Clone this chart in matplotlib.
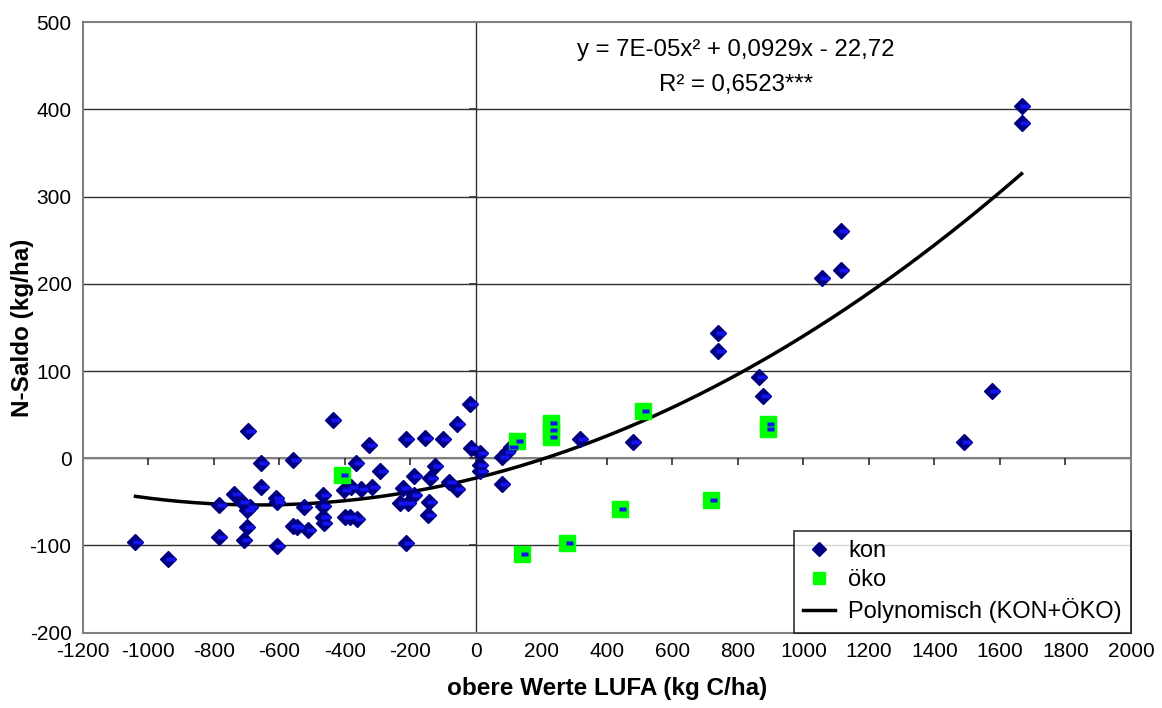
import matplotlib
matplotlib.use("Agg")
import matplotlib.pyplot as plt
import numpy as np
from matplotlib.markers import TICKDOWN, TICKLEFT
from matplotlib.lines import Line2D

plt.rcParams['font.family'] = ['Liberation Sans', 'DejaVu Sans']

# ---- data ----
kon_x = [-1039, -941, -785, -785, -739, -714, -699, -689, -697, -699, -709,
         -656, -655, -610, -607, -607, -559, -558, -546, -526, -511,
         -468, -467, -467, -465, -436, -401, -380, -351, -317, -399, -383,
         -363, -366, -325, -294, -221, -190, -231, -206, -214, -213, -155,
         -99, -188, -126, -139, -142, -146, -81, -58, -56, -17, -15, 13, 13,
         13, 79, 95, 108, 79, 319, 479, 740, 740, 864, 877, 1056, 1114, 1114,
         1490, 1575, 1666, 1666]
kon_y = [-96.3, -115.5, -53.6, -89.9, -41.3, -49.8, -59.3, -55.5, 31, -78.4,
         -93.7, -5.7, -32.6, -45.9, -49.8, -100.6, -2, -77.3, -78.4, -55.5,
         -82.2, -42.1, -54.7, -67, -74.5, 43.9, -36.4, -32.6, -35.2, -32.6,
         -67, -67, -69.6, -5, 15.6, -14.2, -34.4, -42.1, -51.6, -51.3, -96.8,
         22.1, 23.6, 21.8, -20.3, -8.8, -22.2, -49.8, -65, -26.8, -35.6, 39,
         62.3, 12.2, 5.7, -7.7, -14.6, 1.8, 7.6, 13.3, -29.8, 21.8, 18.3,
         143.3, 123, 93.6, 71.8, 206.8, 261, 216, 18.7, 77.5, 404, 384]

oeko_x = [-409, 126, 230, 230, 230, 140, 278, 440, 510, 718, 893, 893]
oeko_y = [-19.2, 19.8, 40.5, 32.1, 24.8, -110, -97.5, -58, 54, -47.5, 39.7, 33.6]

# trend line coefficients as printed on the chart
coef_a, coef_b, coef_c = 7e-05, 0.0929, -22.72

x_ticks = list(range(-1200, 2001, 200))
y_ticks = list(range(-200, 501, 100))

# ---- figure ----
fig = plt.figure(figsize=(11.62, 7.08), dpi=100)
ax = fig.add_axes([0.0712, 0.1064, 0.9021, 0.8621])
ax.set_xlim(-1200, 2000)
ax.set_ylim(-200, 500)

for s in ax.spines.values():
    s.set_color('#808080')
    s.set_linewidth(1.5)

ax.set_xticks(x_ticks)
ax.set_yticks(y_ticks)
ax.tick_params(length=0, labelsize=15)
ax.tick_params(axis='x', pad=7)
ax.tick_params(axis='y', pad=8)
ax.set_xticklabels([str(t) for t in x_ticks])
ax.set_yticklabels([str(t) for t in y_ticks])

for yt in y_ticks[1:-1]:
    ax.axhline(yt, color='#303030', lw=1.0, zorder=1)
ax.axhline(0, color='#808080', lw=1.5, zorder=1.5)
ax.axvline(0, color='#303030', lw=1.0, zorder=1.5)

# axis tick marks on the crossing axes
ax.plot(x_ticks[1:-1], [0] * len(x_ticks[1:-1]), linestyle='none',
        marker=TICKDOWN, ms=5, mew=1.2, color='#303030', zorder=2)
ax.plot([0] * len(y_ticks), y_ticks, linestyle='none',
        marker=TICKLEFT, ms=5, mew=1.2, color='#303030', zorder=2, clip_on=False)

# small highlight bar inside the markers (right of centre)
bar_right = [(-0.22, -0.25), (1.0, -0.25), (1.0, 0.25), (-0.22, 0.25), (-0.22, -0.25)]

# trend line
xs = np.linspace(min(kon_x + oeko_x), max(kon_x + oeko_x), 300)
ax.plot(xs, coef_a * xs**2 + coef_b * xs + coef_c, color='black', lw=2.5, zorder=4)

# points
ax.plot(kon_x, kon_y, linestyle='none', marker='D', ms=8, mfc='#000080',
        mec='#000080', mew=1, zorder=5)
ax.plot(kon_x, kon_y, linestyle='none', marker=bar_right, ms=10,
        mfc='#1414F0', mec='none', zorder=6)
ax.plot(oeko_x, oeko_y, linestyle='none', marker='s', ms=11.5, mfc='#00FF00',
        mec='#00FF00', zorder=5)
ax.plot(oeko_x, oeko_y, linestyle='none', marker=bar_right, ms=9,
        mfc='#1414F0', mec='none', zorder=6)

ax.text(793, 468, 'y = 7E-05x² + 0,0929x - 22,72', ha='center', va='center', fontsize=17.3)
ax.text(793, 428, 'R² = 0,6523***', ha='center', va='center', fontsize=17.3)

ax.set_xlabel('obere Werte LUFA (kg C/ha)', fontsize=17.5, fontweight='bold', labelpad=11)
ax.set_ylabel('N-Saldo (kg/ha)', fontsize=17.5, fontweight='bold', labelpad=-3)

handles = [Line2D([], [], linestyle='none', marker='D', ms=7, mfc='#000080', mec='#000080'),
           Line2D([], [], linestyle='none', marker='s', ms=9, mfc='#00FF00', mec='#00FF00'),
           Line2D([], [], color='black', lw=2.5)]
leg = ax.legend(handles, ['kon', 'öko', 'Polynomisch (KON+ÖKO)'], loc='lower right',
                fontsize=17, frameon=True, fancybox=False, borderaxespad=0,
                handlelength=1.35, handletextpad=0.55, borderpad=0.4, labelspacing=0.3)
leg.get_frame().set_edgecolor('black')
leg.get_frame().set_linewidth(1.2)
leg.set_zorder(10)

fig.savefig('out.png', dpi=100)
